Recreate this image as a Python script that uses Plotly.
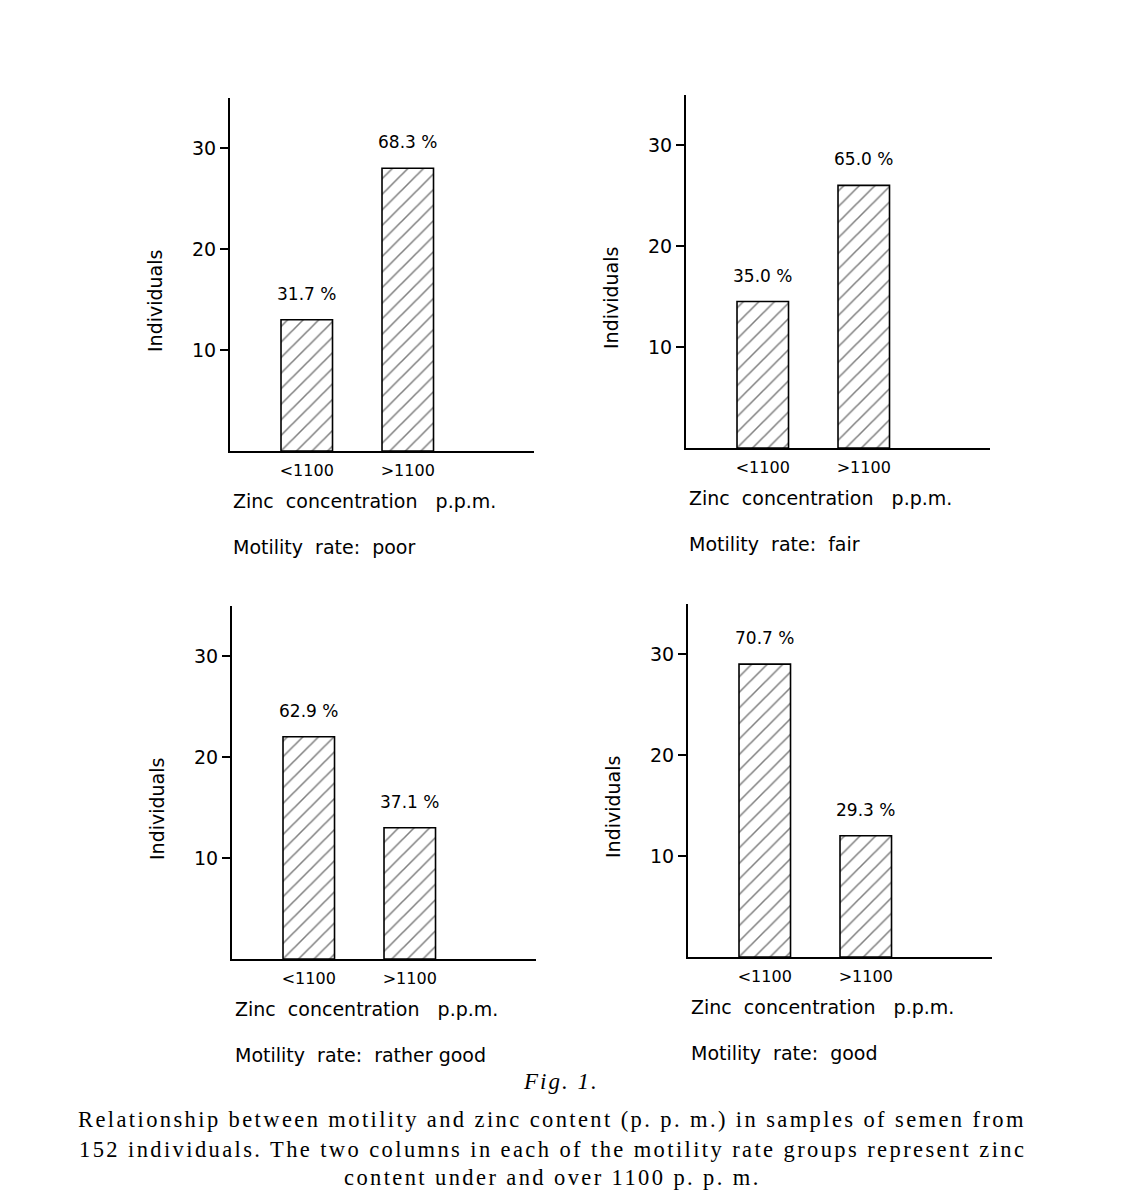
import plotly.graph_objects as go

categories = ["<1100", ">1100"]
panels = ["poor", "fair", "rather good", "good"]
values_poor = [13, 28]
values_fair = [14.5, 26]
values_rather_good = [22, 13]
values_good = [29, 12]
pct_poor = ["31.7 %", "68.3 %"]
pct_fair = ["35.0 %", "65.0 %"]
pct_rather_good = ["62.9 %", "37.1 %"]
pct_good = ["70.7 %", "29.3 %"]
y_ticks = [10, 20, 30]

# page has an 8px body margin; size the figure so the page is 1123x1200
M = 8
W, H = 1123 - 2 * M, 1200 - 2 * M


def px(x):
    return (x - M) / W


def py(y):
    return 1 - (y - M) / H


series = [values_poor, values_fair, values_rather_good, values_good]
pcts = [pct_poor, pct_fair, pct_rather_good, pct_good]

# reference pixel positions: y-axis x, zero line y
geo = [(230, 451), (686, 448), (232, 959), (688, 957)]
px_per_unit = 10.1
x_range = [-0.76, 2.25]
y_range = [0, 35]
span_x = (x_range[1] - x_range[0]) * 101

fig = go.Figure()
sans = "DejaVu Sans"
serif = "Liberation Serif"
annotations = []

for i, (vals, pc, name) in enumerate(zip(series, pcts, panels)):
    ax_x, ax_y = geo[i]
    xa = "x" if i == 0 else f"x{i+1}"
    ya = "y" if i == 0 else f"y{i+1}"
    xdom = [px(ax_x), px(ax_x + span_x)]
    ydom = [py(ax_y), py(ax_y - px_per_unit * y_range[1])]
    fig.add_trace(go.Bar(
        x=[0, 1], y=vals, width=0.51, xaxis=xa, yaxis=ya,
        marker=dict(color="white", line=dict(color="black", width=1.6),
                    pattern=dict(shape="/", fgcolor="black", bgcolor="white",
                                 size=11, solidity=0.14)),
        showlegend=False, hoverinfo="skip"))
    lay_x = "xaxis" if i == 0 else f"xaxis{i+1}"
    lay_y = "yaxis" if i == 0 else f"yaxis{i+1}"
    fig.layout[lay_x] = dict(
        domain=xdom, range=x_range, anchor=ya, showgrid=False, zeroline=False,
        showline=True, linecolor="black", linewidth=2, ticks="",
        tickvals=[0, 1], ticktext=categories, ticklabelstandoff=4,
        tickfont=dict(family=sans, size=16, color="black"))
    fig.layout[lay_y] = dict(
        domain=ydom, range=y_range, anchor=xa, showgrid=False, zeroline=False,
        showline=True, linecolor="black", linewidth=2, ticks="outside",
        ticklen=8, tickwidth=1.5, tickcolor="black", tickvals=y_ticks,
        tickfont=dict(family=sans, size=19, color="black"))
    for j in range(2):
        annotations.append(dict(
            x=j, y=vals[j], xref=xa, yref=ya, text=pc[j], showarrow=False,
            xanchor="center", yanchor="bottom", yshift=14,
            font=dict(family=sans, size=17, color="black")))
    annotations.append(dict(
        x=px(ax_x - 75), y=py(ax_y - 150), xref="paper", yref="paper",
        xanchor="center", yanchor="middle",
        text="Individuals", textangle=-90, showarrow=False,
        font=dict(family=sans, size=19, color="black")))
    annotations.append(dict(
        x=px(ax_x + 1), y=py(ax_y + 50), xref="paper", yref="paper",
        xanchor="left", yanchor="middle",
        text="Zinc  concentration   p.p.m.", showarrow=False,
        font=dict(family=sans, size=19, color="black")))
    annotations.append(dict(
        x=px(ax_x + 1), y=py(ax_y + 96), xref="paper", yref="paper",
        xanchor="left", yanchor="middle",
        text=f"Motility  rate:  {name}", showarrow=False,
        font=dict(family=sans, size=19, color="black")))

annotations.append(dict(
    x=px(561), y=py(1081), xref="paper", yref="paper",
    xanchor="center", yanchor="middle",
    text='<i><span style="letter-spacing:2px">Fig. 1.</span></i>',
    showarrow=False, font=dict(family=serif, size=23, color="black")))
caption = [
    ("Relationship between motility and zinc content (p. p. m.) in samples of semen from", 2.4),
    ("152 individuals. The two columns in each of the motility rate groups represent zinc", 2.4),
    ("content under and over 1100 p. p. m.", 2.4),
]
caption_y = [1119, 1149, 1177]
for (line, ls), cy in zip(caption, caption_y):
    annotations.append(dict(
        x=px(552), y=py(cy), xref="paper", yref="paper",
        xanchor="center", yanchor="middle",
        text=f'<span style="letter-spacing:{ls}px">{line}</span>',
        showarrow=False, font=dict(family=serif, size=22.5, color="black")))

fig.update_layout(
    width=W, height=H, margin=dict(l=0, r=0, t=0, b=0),
    paper_bgcolor="white", plot_bgcolor="white", annotations=annotations)

fig.write_html("out.html")
